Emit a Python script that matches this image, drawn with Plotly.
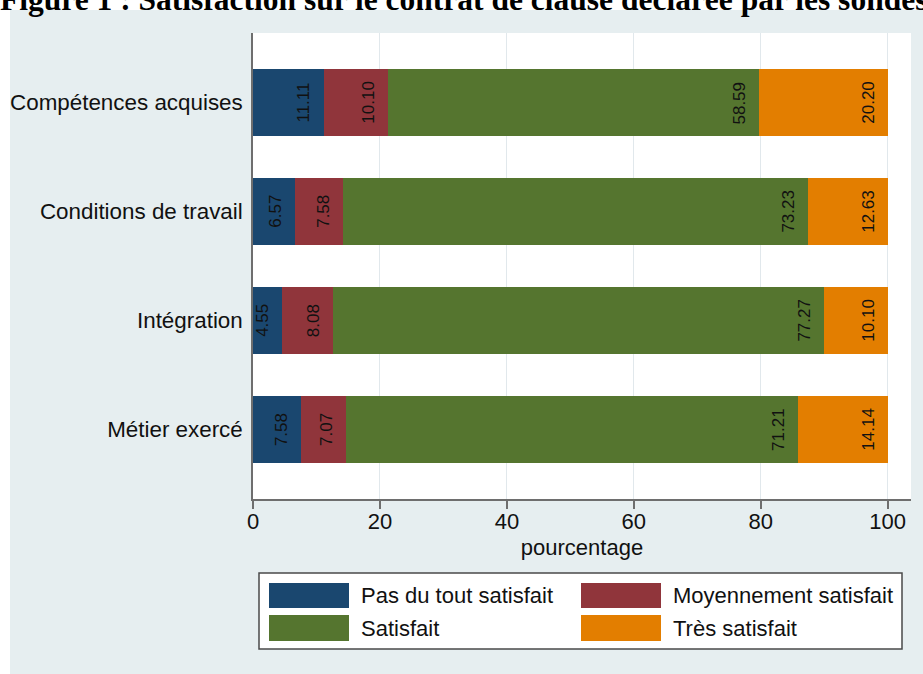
import plotly.graph_objects as go

# ---- data ----
categories = ["Compétences acquises", "Conditions de travail", "Intégration", "Métier exercé"]
series_names = ["Pas du tout satisfait", "Moyennement satisfait", "Satisfait", "Très satisfait"]
pas_du_tout = [11.11, 6.57, 4.55, 7.58]
moyennement = [10.10, 7.58, 8.08, 7.07]
satisfait = [58.59, 73.23, 77.27, 71.21]
tres_satisfait = [20.20, 12.63, 10.10, 14.14]
series_values = [pas_du_tout, moyennement, satisfait, tres_satisfait]
colors = ["#1A476F", "#90353B", "#55752F", "#E37E00"]
x_ticks = [0, 20, 40, 60, 80, 100]
x_title = "pourcentage"
title_text = "Figure 1 : Satisfaction sur le contrat de clause déclarée par les sondés"

# ---- layout geometry (pixels) ----
WIDTH, HEIGHT = 923, 674
L, R, T, B = 253, 911, 33, 499
PW, PH = R - L, B - T


def px_x(p):
    return (p - L) / PW


def px_y(p):
    return (B - p) / PH


FONT = "Liberation Sans, Arial, Helvetica, sans-serif"
TXT = "#111111"

fig = go.Figure()
annotations = []
cum = [0.0] * len(categories)
for name, vals, col in zip(series_names, series_values, colors):
    fig.add_trace(go.Bar(
        y=categories, x=vals, name=name, orientation="h",
        marker=dict(color=col, line=dict(width=0)),
        width=0.615, showlegend=False, hoverinfo="x+y+name",
    ))
    for i, (cat, v) in enumerate(zip(categories, vals)):
        cum[i] += v
        annotations.append(dict(
            x=cum[i], y=cat, xref="x", yref="y", text=f"{v:.2f}",
            textangle=-90, xanchor="right", yanchor="middle", xshift=-9,
            showarrow=False, borderpad=0,
            font=dict(family=FONT, size=17, color=TXT)))

xmax = 100 * PW / (887.7 - 253)

shapes = [
    # graph region background
    dict(type="rect", xref="paper", yref="paper", layer="below",
         x0=px_x(10), x1=px_x(WIDTH + 5), y0=px_y(10), y1=px_y(HEIGHT + 5),
         fillcolor="#E6EEF0", line=dict(width=0)),
    # plot region
    dict(type="rect", xref="paper", yref="paper", layer="below",
         x0=0, x1=1, y0=0, y1=1, fillcolor="white", line=dict(width=0)),
    # legend box
    dict(type="rect", xref="paper", yref="paper", layer="above",
         x0=px_x(259), x1=px_x(902), y0=px_y(649), y1=px_y(573),
         fillcolor="white", line=dict(color="#4A4A4A", width=1.5)),
]

annotations.append(
    dict(text=f"<b>{title_text}</b>", xref="paper", yref="paper",
         x=px_x(-1), y=px_y(18), xanchor="left", yanchor="bottom",
         showarrow=False, borderpad=0,
         font=dict(family="Liberation Serif, Times New Roman, serif", size=31.5, color="black")))

# legend entries (2 columns x 2 rows)
sw_x = [(269, 349), (581, 661)]
lab_x = [359, 671]
rows = [(583, 608), (615, 641)]
for i, (name, col) in enumerate(zip(series_names, colors)):
    c = i % 2
    r = i // 2
    x0, x1 = sw_x[c]
    y0, y1 = rows[r]
    shapes.append(dict(type="rect", xref="paper", yref="paper", layer="above",
                       x0=px_x(x0), x1=px_x(x1), y0=px_y(y1), y1=px_y(y0),
                       fillcolor=col, line=dict(width=0)))
    annotations.append(dict(text=name, xref="paper", yref="paper",
                            x=px_x(lab_x[c]), y=px_y((y0 + y1) / 2),
                            xanchor="left", yanchor="middle", showarrow=False,
                            font=dict(family=FONT, size=22, color=TXT)))

fig.update_layout(
    width=WIDTH, height=HEIGHT,
    margin=dict(l=L, r=WIDTH - R, t=T, b=HEIGHT - B, pad=0, autoexpand=False),
    paper_bgcolor="white", plot_bgcolor="white",
    barmode="stack",
    font=dict(family=FONT, size=22, color=TXT),
    shapes=shapes, annotations=annotations,
    showlegend=False,
    xaxis=dict(range=[0, xmax], tickmode="array", tickvals=x_ticks,
               ticktext=[str(t) for t in x_ticks], automargin=False,
               showgrid=True, gridcolor="#E1E8EC", gridwidth=1,
               zeroline=False, showline=True, linecolor="#6E6E6E", linewidth=1.5,
               ticks="outside", ticklen=8, tickwidth=1.5, tickcolor="#6E6E6E",
               ticklabelstandoff=-6,
               tickfont=dict(size=22, color=TXT),
               title=dict(text=x_title, font=dict(size=22, color=TXT), standoff=6)),
    yaxis=dict(range=[3.638, -0.638], showgrid=False, zeroline=False,
               automargin=False,
               showline=True, linecolor="#6E6E6E", linewidth=1.5,
               ticks="", ticklabelstandoff=4,
               tickfont=dict(size=22.4, color=TXT)),
)

fig.write_html("out.html", config={"displayModeBar": False},
               post_script="document.body.style.margin='0';document.body.style.padding='0';")
